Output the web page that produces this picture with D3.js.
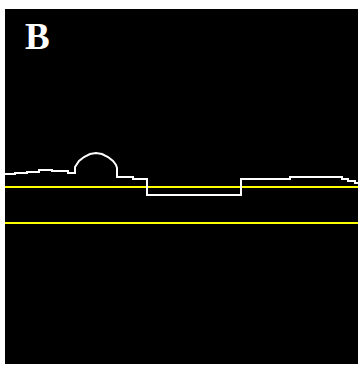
<!DOCTYPE html>
<html lang="en">
<head>
  <meta charset="UTF-8">
  <title>Panel B profile</title>
  <script src="https://d3js.org/d3.v7.min.js"></script>
  <style>
    body {
      margin: 0;
      background: #fff;
    }
    svg {
      display: block;
    }
  </style>
</head>
<body>
<svg></svg>
<script>
  // profile trace (x along panel, h = height above panel bottom)
  const profileX = [0, 10, 10, 22, 22, 34, 34, 47, 47, 63, 63, 70, 70, 74, 79, 85, 91, 97, 103, 108, 111, 112,
    112, 128, 128, 142, 142, 236, 236, 285, 285, 337, 337, 343, 343, 350, 350, 353];
  const profileH = [190, 190, 191, 191, 192, 192, 194, 194, 193, 193, 191, 191, 197, 203, 207, 210, 211, 210, 207, 203, 199, 196,
    187, 187, 185, 185, 169, 169, 185, 185, 187, 187, 185, 185, 183, 183, 181, 181];
  // horizontal reference levels
  const refLevels = [177, 141];
  const panelLabel = "B";

  const width = 358, height = 365;
  const margin = { top: 9, right: 0, bottom: 1, left: 5 };
  const innerW = width - margin.left - margin.right;
  const innerH = height - margin.top - margin.bottom;

  const svg = d3.select("svg")
    .attr("width", width)
    .attr("height", height);

  const x = d3.scaleLinear().domain([0, 353]).range([0, innerW]);
  const y = d3.scaleLinear().domain([0, 355]).range([innerH, 0]);

  const g = svg.append("g")
    .attr("transform", `translate(${margin.left},${margin.top})`);

  g.append("rect")
    .attr("width", innerW)
    .attr("height", innerH)
    .attr("fill", "#000");

  g.selectAll("line.ref")
    .data(refLevels)
    .join("line")
    .attr("class", "ref")
    .attr("x1", x(0))
    .attr("x2", x(353))
    .attr("y1", d => y(d))
    .attr("y2", d => y(d))
    .attr("stroke", "#ffff00")
    .attr("stroke-width", 2);

  const pts = profileX.map((v, i) => [v, profileH[i]]);
  const line = d3.line()
    .x(d => x(d[0]))
    .y(d => y(d[1]));

  g.append("path")
    .datum(pts)
    .attr("d", line)
    .attr("fill", "none")
    .attr("stroke", "#fff")
    .attr("stroke-width", 2);

  g.append("text")
    .attr("x", 20)
    .attr("y", 40)
    .attr("fill", "#fff")
    .attr("font-family", "Liberation Serif, Times New Roman, serif")
    .attr("font-weight", "bold")
    .attr("font-size", 37)
    .text(panelLabel);
</script>
</body>
</html>
